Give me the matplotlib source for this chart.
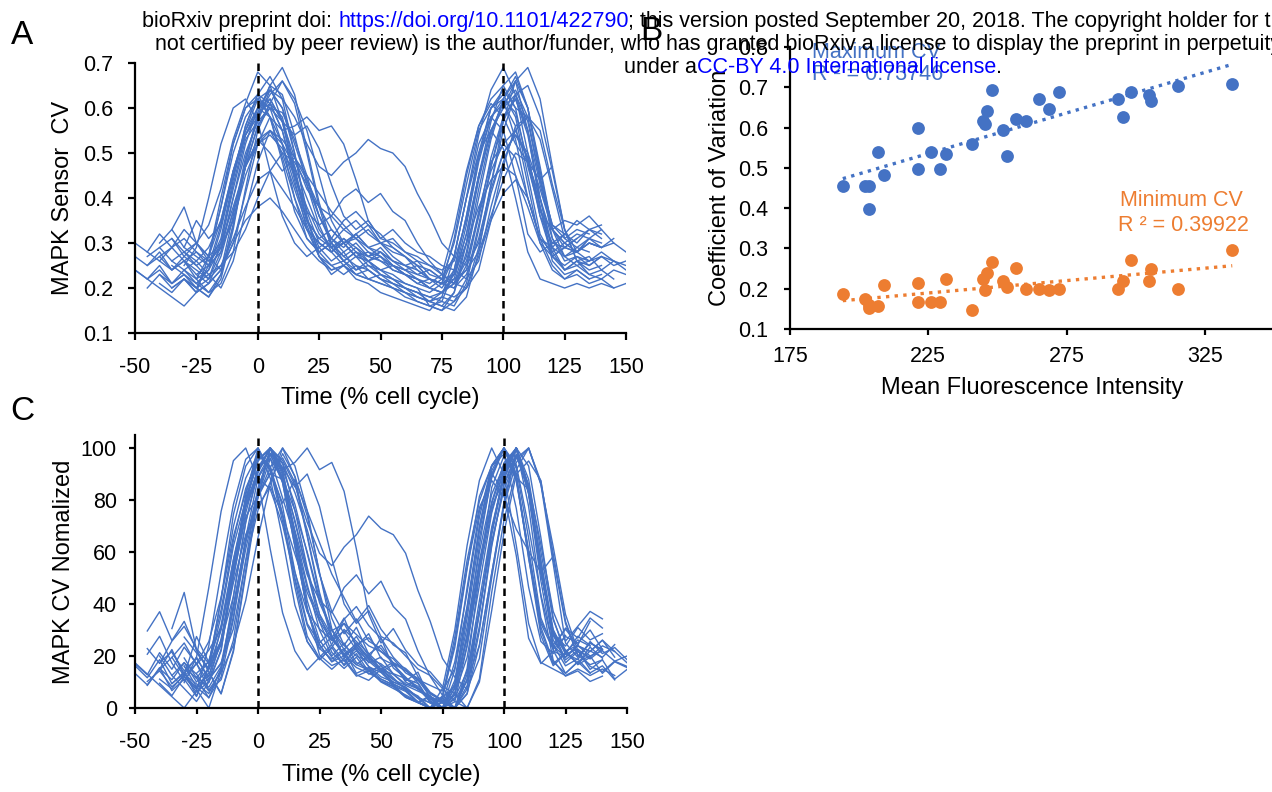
import numpy as np
import matplotlib
matplotlib.use('Agg')
import matplotlib.pyplot as plt

plt.rcParams['font.family'] = ['Liberation Sans', 'DejaVu Sans']
plt.rcParams['axes.unicode_minus'] = False

W, H = 1272, 792
BLUE = '#4472C4'
ORANGE = '#ED7D31'

# MAPK sensor CV per cell, sampled every 5 % of the cell cycle from trace_start
trace_start = [-50, -45, -40, -35, -30, -45, -40, -35, -30, -25, -50, -40,
               -35, -45, -30, -40, -25, -50, -35, -30, -20, -45, -40, -30,
               -50, -30, -45, -40, -25, -35]
cv_traces = [
    [0.27, 0.25, 0.28, 0.24, 0.26, 0.22, 0.27, 0.38, 0.50, 0.58, 0.62, 0.60, 0.52, 0.40, 0.31, 0.28, 0.30, 0.27, 0.29, 0.26, 0.27,
     0.24, 0.23, 0.21, 0.22, 0.20, 0.24, 0.36, 0.50, 0.60, 0.63, 0.58, 0.45, 0.32, 0.27, 0.29, 0.28, 0.31, 0.29, 0.30, 0.28],
    [0.22, 0.24, 0.21, 0.23, 0.20, 0.22, 0.30, 0.42, 0.53, 0.57, 0.64, 0.60, 0.50, 0.36, 0.27, 0.25, 0.26, 0.23, 0.24, 0.22,
     0.21, 0.19, 0.18, 0.17, 0.19, 0.21, 0.30, 0.44, 0.55, 0.60, 0.66, 0.55, 0.38, 0.26, 0.23, 0.24, 0.22, 0.23],
    [0.29, 0.31, 0.27, 0.30, 0.26, 0.29, 0.35, 0.47, 0.56, 0.61, 0.66, 0.62, 0.55, 0.45, 0.35, 0.30, 0.32, 0.29, 0.30, 0.27,
     0.25, 0.26, 0.23, 0.22, 0.21, 0.27, 0.40, 0.53, 0.62, 0.67, 0.60, 0.47, 0.33, 0.30, 0.32, 0.31, 0.33, 0.30],
    [0.33, 0.38, 0.30, 0.27, 0.24, 0.30, 0.41, 0.52, 0.58, 0.55, 0.56, 0.58, 0.55, 0.56, 0.52, 0.44, 0.35, 0.31, 0.33, 0.30,
     0.28, 0.27, 0.25, 0.24, 0.22, 0.26, 0.38, 0.48, 0.55, 0.58, 0.53, 0.42, 0.31, 0.29, 0.31, 0.30],
    [0.24, 0.21, 0.23, 0.20, 0.26, 0.37, 0.48, 0.55, 0.52, 0.47, 0.40, 0.33, 0.29, 0.30, 0.27, 0.28, 0.26, 0.25, 0.23, 0.22,
     0.20, 0.19, 0.18, 0.20, 0.29, 0.41, 0.50, 0.54, 0.49, 0.38, 0.27, 0.24, 0.25, 0.23, 0.24, 0.22],
    [0.25, 0.27, 0.24, 0.26, 0.23, 0.21, 0.24, 0.30, 0.35, 0.38, 0.40, 0.37, 0.33, 0.29, 0.26, 0.24, 0.25, 0.23, 0.22, 0.21,
     0.20, 0.19, 0.18, 0.17, 0.18, 0.17, 0.20, 0.27, 0.35, 0.41, 0.44, 0.40, 0.31, 0.25, 0.22, 0.23, 0.21, 0.22, 0.20, 0.21],
    [0.26, 0.24, 0.27, 0.25, 0.22, 0.28, 0.40, 0.52, 0.60, 0.64, 0.62, 0.58, 0.52, 0.47, 0.45, 0.48, 0.50, 0.53, 0.51, 0.50,
     0.47, 0.41, 0.36, 0.30, 0.27, 0.25, 0.30, 0.43, 0.55, 0.63, 0.57, 0.44, 0.34, 0.32, 0.35, 0.33, 0.34],
    [0.20, 0.22, 0.19, 0.21, 0.24, 0.36, 0.49, 0.58, 0.63, 0.66, 0.61, 0.50, 0.38, 0.29, 0.26, 0.28, 0.25, 0.24, 0.22, 0.21,
     0.20, 0.16, 0.15, 0.19, 0.30, 0.45, 0.57, 0.65, 0.68, 0.60, 0.45, 0.31, 0.26, 0.27, 0.25, 0.27],
    [0.28, 0.26, 0.29, 0.35, 0.46, 0.55, 0.60, 0.58, 0.52, 0.43, 0.35, 0.31, 0.33, 0.30, 0.31, 0.28, 0.27, 0.25, 0.24, 0.22,
     0.21, 0.23, 0.33, 0.46, 0.56, 0.62, 0.65, 0.60, 0.58],
    [0.23, 0.25, 0.31, 0.44, 0.56, 0.63, 0.67, 0.62, 0.50, 0.37, 0.30, 0.28, 0.30, 0.27, 0.26, 0.24, 0.23, 0.21, 0.20, 0.19,
     0.21, 0.31, 0.45, 0.56, 0.61, 0.58, 0.52, 0.48, 0.44, 0.47],
    [0.30, 0.28, 0.32, 0.29, 0.33, 0.30, 0.34, 0.42, 0.53, 0.61, 0.68, 0.65, 0.57, 0.45, 0.35, 0.31, 0.29, 0.31, 0.28, 0.27,
     0.29, 0.26, 0.25, 0.23, 0.24, 0.22, 0.27, 0.40, 0.54, 0.64, 0.69, 0.63, 0.50, 0.36, 0.30, 0.32, 0.30, 0.33, 0.31],
    [0.23, 0.20, 0.22, 0.19, 0.21, 0.27, 0.37, 0.47, 0.53, 0.55, 0.50, 0.42, 0.34, 0.27, 0.23, 0.25, 0.22, 0.21, 0.19, 0.18,
     0.17, 0.16, 0.15, 0.18, 0.27, 0.40, 0.50, 0.55, 0.51, 0.40, 0.28, 0.22, 0.21, 0.20, 0.21, 0.20, 0.21, 0.20],
    [0.25, 0.23, 0.21, 0.24, 0.29, 0.40, 0.50, 0.57, 0.60, 0.57, 0.54, 0.56, 0.51, 0.43, 0.36, 0.33, 0.35, 0.31, 0.30, 0.28,
     0.26, 0.25, 0.23, 0.21, 0.20, 0.24, 0.35, 0.47, 0.56, 0.58, 0.55, 0.43, 0.33, 0.28, 0.30, 0.29],
    [0.20, 0.23, 0.21, 0.24, 0.22, 0.19, 0.21, 0.28, 0.42, 0.55, 0.61, 0.58, 0.47, 0.35, 0.28, 0.25, 0.23, 0.25, 0.22, 0.23,
     0.21, 0.20, 0.19, 0.18, 0.17, 0.16, 0.21, 0.33, 0.47, 0.58, 0.62, 0.54, 0.40, 0.29, 0.24, 0.26, 0.25, 0.27, 0.26],
    [0.26, 0.24, 0.22, 0.25, 0.31, 0.38, 0.44, 0.46, 0.42, 0.38, 0.33, 0.30, 0.28, 0.30, 0.27, 0.26, 0.28, 0.25, 0.24, 0.23,
     0.22, 0.21, 0.23, 0.30, 0.38, 0.44, 0.47, 0.45, 0.38, 0.30, 0.27, 0.29, 0.28, 0.30, 0.29],
    [0.27, 0.29, 0.26, 0.28, 0.25, 0.30, 0.43, 0.54, 0.60, 0.62, 0.57, 0.49, 0.42, 0.38, 0.36, 0.40, 0.42, 0.39, 0.41, 0.37,
     0.35, 0.30, 0.26, 0.23, 0.21, 0.24, 0.36, 0.49, 0.58, 0.62, 0.55, 0.43, 0.33, 0.30, 0.28, 0.30, 0.29, 0.31],
    [0.22, 0.24, 0.33, 0.45, 0.54, 0.59, 0.61, 0.55, 0.44, 0.33, 0.27, 0.24, 0.25, 0.23, 0.22, 0.21, 0.20, 0.18, 0.17, 0.16,
     0.17, 0.24, 0.36, 0.49, 0.58, 0.61, 0.56, 0.43, 0.30, 0.24, 0.22, 0.24, 0.22],
    [0.24, 0.22, 0.25, 0.21, 0.23, 0.20, 0.25, 0.34, 0.46, 0.54, 0.58, 0.62, 0.57, 0.46, 0.35, 0.29, 0.26, 0.28, 0.24, 0.25,
     0.23, 0.22, 0.20, 0.19, 0.18, 0.19, 0.22, 0.32, 0.45, 0.55, 0.60, 0.63, 0.55, 0.40, 0.28, 0.24, 0.26, 0.27, 0.24, 0.26, 0.25],
    [0.31, 0.28, 0.30, 0.27, 0.35, 0.46, 0.55, 0.62, 0.64, 0.60, 0.52, 0.44, 0.36, 0.31, 0.29, 0.32, 0.34, 0.30, 0.29, 0.27,
     0.25, 0.24, 0.22, 0.23, 0.32, 0.45, 0.55, 0.61, 0.64, 0.58, 0.44, 0.34, 0.31, 0.33, 0.32],
    [0.22, 0.20, 0.18, 0.22, 0.33, 0.48, 0.58, 0.65, 0.63, 0.54, 0.43, 0.34, 0.28, 0.25, 0.27, 0.24, 0.22, 0.21, 0.20, 0.18,
     0.17, 0.16, 0.19, 0.28, 0.42, 0.54, 0.62, 0.66, 0.60, 0.46, 0.33, 0.27, 0.28, 0.26, 0.27, 0.25, 0.26],
    [0.27, 0.38, 0.52, 0.60, 0.63, 0.58, 0.48, 0.37, 0.31, 0.28, 0.30, 0.33, 0.31, 0.29, 0.27, 0.25, 0.23, 0.22, 0.20, 0.22,
     0.30, 0.43, 0.55, 0.60, 0.62, 0.53, 0.40, 0.31, 0.29, 0.32],
    [0.28, 0.26, 0.29, 0.31, 0.28, 0.26, 0.29, 0.35, 0.45, 0.52, 0.55, 0.53, 0.49, 0.44, 0.38, 0.33, 0.30, 0.32, 0.29, 0.28,
     0.26, 0.25, 0.24, 0.22, 0.21, 0.20, 0.23, 0.31, 0.42, 0.50, 0.54, 0.50, 0.42, 0.33, 0.29, 0.31, 0.33, 0.32],
    [0.21, 0.19, 0.22, 0.20, 0.18, 0.23, 0.34, 0.48, 0.59, 0.65, 0.69, 0.63, 0.51, 0.39, 0.30, 0.26, 0.24, 0.26, 0.23, 0.22,
     0.20, 0.19, 0.17, 0.16, 0.15, 0.18, 0.28, 0.43, 0.57, 0.66, 0.69, 0.62, 0.47, 0.33, 0.26, 0.24, 0.25],
    [0.29, 0.27, 0.25, 0.28, 0.37, 0.47, 0.53, 0.50, 0.46, 0.49, 0.45, 0.41, 0.37, 0.34, 0.31, 0.33, 0.30, 0.28, 0.27, 0.24,
     0.22, 0.21, 0.20, 0.25, 0.37, 0.48, 0.52, 0.49, 0.40, 0.31, 0.28, 0.30, 0.28, 0.31],
    [0.24, 0.22, 0.20, 0.18, 0.16, 0.19, 0.27, 0.40, 0.52, 0.60, 0.62, 0.58, 0.49, 0.40, 0.33, 0.30, 0.28, 0.31, 0.29, 0.27,
     0.26, 0.24, 0.23, 0.21, 0.20, 0.19, 0.23, 0.34, 0.48, 0.58, 0.62, 0.59, 0.48, 0.36, 0.27, 0.25, 0.27, 0.26, 0.28, 0.26, 0.24],
    [0.25, 0.29, 0.40, 0.52, 0.60, 0.62, 0.57, 0.46, 0.36, 0.30, 0.27, 0.29, 0.31, 0.35, 0.37, 0.34, 0.32, 0.29, 0.27, 0.25,
     0.22, 0.21, 0.27, 0.40, 0.52, 0.58, 0.55, 0.45, 0.32, 0.28, 0.30, 0.29, 0.31],
    [0.27, 0.29, 0.26, 0.24, 0.26, 0.23, 0.25, 0.28, 0.33, 0.40, 0.46, 0.50, 0.48, 0.43, 0.36, 0.31, 0.28, 0.30, 0.27, 0.28,
     0.26, 0.24, 0.25, 0.22, 0.21, 0.22, 0.24, 0.28, 0.36, 0.44, 0.50, 0.48, 0.40, 0.31, 0.27, 0.29, 0.28],
    [0.30, 0.33, 0.29, 0.35, 0.31, 0.34, 0.45, 0.56, 0.63, 0.61, 0.55, 0.45, 0.37, 0.34, 0.36, 0.33, 0.35, 0.32, 0.30, 0.31,
     0.28, 0.27, 0.25, 0.24, 0.26, 0.35, 0.49, 0.60, 0.64, 0.60, 0.47, 0.37, 0.33, 0.35, 0.34, 0.36, 0.33],
    [0.21, 0.19, 0.23, 0.34, 0.47, 0.56, 0.60, 0.59, 0.53, 0.45, 0.36, 0.30, 0.27, 0.25, 0.24, 0.22, 0.20, 0.19, 0.17, 0.16,
     0.15, 0.17, 0.22, 0.34, 0.47, 0.57, 0.63, 0.65, 0.58, 0.46, 0.33, 0.26, 0.23, 0.22, 0.24, 0.23, 0.22],
    [0.26, 0.28, 0.25, 0.27, 0.30, 0.38, 0.47, 0.52, 0.54, 0.51, 0.45, 0.38, 0.32, 0.29, 0.26, 0.28, 0.26, 0.24, 0.25, 0.23,
     0.22, 0.20, 0.19, 0.21, 0.26, 0.36, 0.46, 0.52, 0.55, 0.49, 0.38, 0.29, 0.27, 0.25, 0.26],
]
step = 5

# panel B: per-cell mean intensity vs max / min CV
mean_intensity = [194.1, 202.1, 203.7, 203.7, 206.9, 209.1, 221.2, 221.2, 226.0, 229.1,
                  231.4, 240.7, 244.8, 245.6, 246.4, 248.0, 252.0, 253.5, 256.6, 260.5,
                  265.2, 268.5, 272.4, 293.7, 295.4, 298.4, 304.7, 305.5, 315.2, 334.9]
max_cv = [0.454, 0.454, 0.454, 0.397, 0.540, 0.483, 0.598, 0.497, 0.540, 0.497,
          0.535, 0.560, 0.616, 0.608, 0.641, 0.694, 0.593, 0.530, 0.621, 0.617,
          0.670, 0.646, 0.689, 0.670, 0.627, 0.689, 0.682, 0.665, 0.702, 0.708]
min_cv = [0.186, 0.174, 0.152, 0.160, 0.156, 0.209, 0.214, 0.167, 0.167, 0.167,
          0.224, 0.148, 0.224, 0.196, 0.239, 0.267, 0.219, 0.204, 0.252, 0.200,
          0.200, 0.196, 0.200, 0.200, 0.219, 0.271, 0.219, 0.248, 0.200, 0.296]


def fx(p):
    return p / W


def fy(p):
    return 1 - p / H


def style(ax, length):
    for s in ['top', 'right']:
        ax.spines[s].set_visible(False)
    for s in ['left', 'bottom']:
        ax.spines[s].set_linewidth(1.6)
    ax.tick_params(width=1.6, length=length, labelsize=15.5)


fig = plt.figure(figsize=(W / 100, H / 100), dpi=100)

# A
ax_a = fig.add_axes([fx(135), fy(333), 491 / W, 270 / H])
for start, vals in zip(trace_start, cv_traces):
    t = start + step * np.arange(len(vals))
    ax_a.plot(t, vals, color=BLUE, lw=1.0)
ax_a.set_xlim(-50, 150)
ax_a.set_ylim(0.1, 0.7)
ax_a.set_xticks(np.arange(-50, 151, 25))
ax_a.set_yticks(np.arange(0.1, 0.71, 0.1))
ax_a.set_yticklabels([f'{v:.1f}' for v in np.arange(0.1, 0.71, 0.1)])
style(ax_a, 5)
ax_a.tick_params(axis='x', pad=12)
ax_a.tick_params(axis='y', pad=11)
ax_a.set_xlabel('Time (% cell cycle)', fontsize=17, labelpad=7)
ax_a.set_ylabel('MAPK Sensor  CV', fontsize=17, labelpad=6)

# C (each trace scaled to its own min / max)
ax_c = fig.add_axes([fx(135), fy(708), 492 / W, 273 / H])
for start, vals in zip(trace_start, cv_traces):
    v = np.array(vals)
    t = start + step * np.arange(len(v))
    ax_c.plot(t, (v - v.min()) / (v.max() - v.min()) * 100, color=BLUE, lw=1.0)
ax_c.set_xlim(-50, 150)
ax_c.set_ylim(0, 105)
ax_c.set_xticks(np.arange(-50, 151, 25))
ax_c.set_yticks(np.arange(0, 101, 20))
style(ax_c, 4)
ax_c.tick_params(axis='x', pad=13)
ax_c.tick_params(axis='y', pad=9)
ax_c.set_xlabel('Time (% cell cycle)', fontsize=17, labelpad=8)
ax_c.set_ylabel('MAPK CV Nomalized', fontsize=17, labelpad=4)

for ax in (ax_a, ax_c):
    for xv in (0, 100):
        ax.axvline(xv, color='black', lw=1.8, ls=(0, (3, 2)), zorder=3)

# B
ax_b = fig.add_axes([fx(790), fy(329), 484 / W, 282 / H])
mi = np.array(mean_intensity)
for yv, col in ((max_cv, BLUE), (min_cv, ORANGE)):
    ax_b.scatter(mi, yv, s=85, color=col, zorder=3, linewidths=0)
    k, b = np.polyfit(mi, yv, 1)
    xx = np.array([mi.min(), mi.max()])
    ax_b.plot(xx, k * xx + b, color=col, lw=2.4, ls=(0, (1, 1.6)))
ax_b.set_xlim(175, 350)
ax_b.set_ylim(0.1, 0.8)
ax_b.set_xticks([175, 225, 275, 325])
ax_b.set_yticks(np.arange(0.1, 0.81, 0.1))
ax_b.set_yticklabels([f'{v:.1f}' for v in np.arange(0.1, 0.81, 0.1)])
style(ax_b, 4.5)
ax_b.tick_params(axis='x', pad=8)
ax_b.tick_params(axis='y', pad=11)
ax_b.set_xlabel('Mean Fluorescence Intensity', fontsize=17, labelpad=7)
ax_b.set_ylabel('Coefficient of Variation', fontsize=17, labelpad=5)

fig.text(fx(812), fy(52), 'Maximum CV', color=BLUE, fontsize=15.5, va='center')
fig.text(fx(812), fy(75), 'R ² = 0.73746', color=BLUE, fontsize=15.5, va='center')
fig.text(fx(1120), fy(200), 'Minimum CV', color=ORANGE, fontsize=15.5, va='center')
fig.text(fx(1118), fy(225), 'R ² = 0.39922', color=ORANGE, fontsize=15.5, va='center')

# panel letters
for lab, x, y in (('A', 22, 36), ('B', 651, 32), ('C', 22, 412)):
    fig.text(fx(x), fy(y), lab, fontsize=24, ha='center', va='center')

# bioRxiv header
renderer = fig.canvas.get_renderer()
header = [
    (142, 27, [('bioRxiv preprint doi: ', 'black'), ('https://doi.org/10.1101/422790', 'blue'),
               ('; this version posted September 20, 2018. The copyright holder for this preprint (which was', 'black')]),
    (155, 50, [('not certified by peer review) is the author/funder, who has granted bioRxiv a license to display '
                'the preprint in perpetuity. It is made available', 'black')]),
    (624, 73, [('under a', 'black'), ('CC-BY 4.0 International license', 'blue'), ('.', 'black')]),
]
for x0, y0, parts in header:
    x = x0
    for s, col in parts:
        t = fig.text(fx(x), fy(y0), s, color=col, fontsize=15.5, va='baseline', ha='left', zorder=5)
        x += t.get_window_extent(renderer).width

fig.savefig('out.png', dpi=100)
